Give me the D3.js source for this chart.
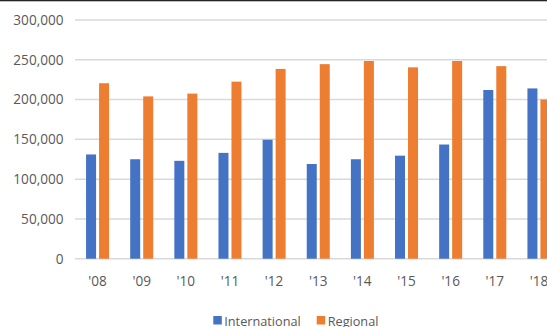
<!DOCTYPE html>
<html><head><meta charset="utf-8">
<script src="https://cdn.jsdelivr.net/npm/d3@7"></script>
<style>html,body{margin:0;padding:0;background:#fff;overflow:hidden}</style>
</head><body>
<svg id="c" width="547" height="327"></svg>
<script>
const categories = ["'08","'09","'10","'11","'12","'13","'14","'15","'16","'17","'18"];
const international = [131000,125000,123000,133000,149500,119000,125000,129500,143500,212000,214000];
const regional = [220500,204000,207500,222500,238500,244500,248500,240500,248500,242000,200000];
const yTicks = [0,50000,100000,150000,200000,250000,300000];
const seriesNames = ["International","Regional"];
const colors = ["#4472C4","#ED7D31"];

const svg = d3.select("#c");
const font = "'Open Sans', sans-serif";
svg.append("rect").attr("x",0).attr("y",0).attr("width",547).attr("height",1.3).attr("fill","#262626");

const x = d3.scaleBand().domain(categories).range([75.5, 561]).paddingInner(0).paddingOuter(0);
const y = d3.scaleLinear().domain([0,300000]).range([258.7, 20]);

// gridlines
svg.append("g").selectAll("line").data(yTicks).join("line")
  .attr("x1",75).attr("x2",547)
  .attr("y1",d=>y(d)).attr("y2",d=>y(d))
  .attr("stroke","#d9d9d9").attr("stroke-width",1.5);

// y labels
svg.append("g").selectAll("text").data(yTicks).join("text")
  .attr("x",63.5).attr("y",d=>y(d)).attr("dy","0.36em")
  .attr("text-anchor","end").attr("font-family",font).attr("font-size",13.6)
  .attr("fill","#595959").text(d=>d3.format(",")(d));

const barW = 10, gap = 3;
const data = categories.map((c,i)=>({c, v:[international[i], regional[i]]}));
const g = svg.append("g");
data.forEach(d=>{
  const cx = x(d.c) + x.bandwidth()/2;
  d.v.forEach((v,j)=>{
    const bx = j===0 ? cx - gap/2 - barW : cx + gap/2;
    g.append("rect").attr("x",bx).attr("y",y(v)).attr("width",barW)
      .attr("height",y(0)-y(v)).attr("fill",colors[j]);
  });
});

// x labels
svg.append("g").selectAll("text").data(categories).join("text")
  .attr("x",d=>x(d)+x.bandwidth()/2).attr("y",281).attr("dy","0.36em")
  .attr("text-anchor","middle").attr("font-family",font).attr("font-size",13.6)
  .attr("fill","#595959").text(d=>d);

// legend
const legX = [213.3, 316.7];
seriesNames.forEach((n,i)=>{
  svg.append("rect").attr("x",legX[i]).attr("y",316).attr("width",8.5).attr("height",8.5).attr("fill",colors[i]);
  svg.append("text").attr("x",legX[i]+11).attr("y",325.5)
    .attr("font-family",font).attr("font-size",12.7).attr("fill","#595959").text(n);
});
</script>
</body></html>
